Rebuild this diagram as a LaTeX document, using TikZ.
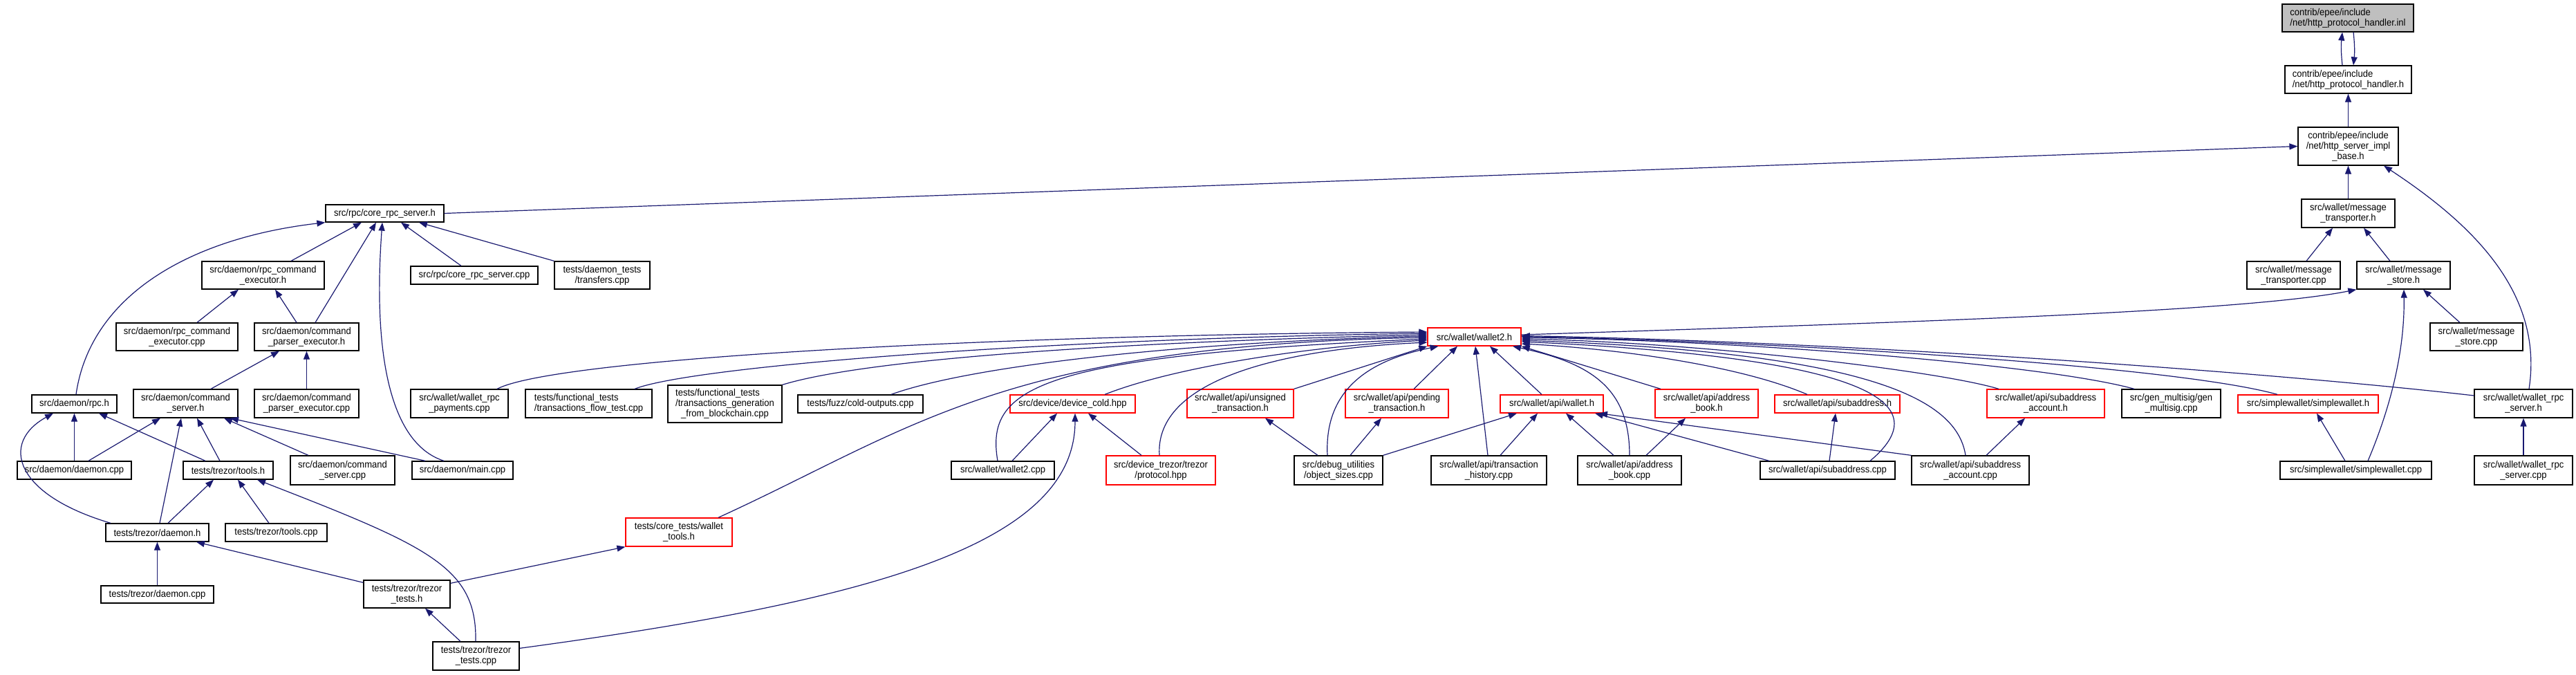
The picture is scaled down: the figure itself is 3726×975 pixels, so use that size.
\documentclass[tikz,border=0pt]{standalone}
\usepackage{fontspec}
\setmainfont{Liberation Sans}[FakeStretch=0.93]
\usetikzlibrary{arrows.meta}
\definecolor{edgeblue}{RGB}{25,25,112}
\definecolor{nodegray}{RGB}{191,191,191}
\tikzset{
  fbox/.style={draw=black, line width=1.3pt, fill=white, inner sep=0pt, align=center,
    font=\fontsize{14}{15}\selectfont, text=black},
  redbox/.style={fbox, draw=red},
  graybox/.style={fbox, fill=nodegray},
  edge/.style={draw=edgeblue, line width=1.2pt, -{Triangle[length=12pt,width=9pt]}},
}
\begin{document}
\begin{tikzpicture}[x=1pt,y=-1pt]
\useasboundingbox (0,0) rectangle (3726,975);
\fill[white] (0,0) rectangle (3726,975);

% ---------------- nodes ----------------
\node[graybox, align=left, minimum width=190pt, minimum height=40pt] (inl) at (3396,26) {contrib/epee/include\\/net/http\_protocol\_handler.inl};
\node[fbox, align=left, minimum width=183pt, minimum height=40pt] (hh) at (3396.5,115) {contrib/epee/include\\/net/http\_protocol\_handler.h};
\node[fbox, minimum width=145pt, minimum height=55pt] (impl) at (3396.5,211.5) {contrib/epee/include\\/net/http\_server\_impl\\\_base.h};
\node[fbox, minimum width=171pt, minimum height=25pt] (crsh) at (556.5,308.5) {src/rpc/core\_rpc\_server.h};
\node[fbox, minimum width=135pt, minimum height=41pt] (mth) at (3396.5,308.5) {src/wallet/message\\\_transporter.h};
\node[fbox, minimum width=177pt, minimum height=40pt] (rceh) at (380.5,398) {src/daemon/rpc\_command\\\_executor.h};
\node[fbox, minimum width=184pt, minimum height=26pt] (crscpp) at (686,398) {src/rpc/core\_rpc\_server.cpp};
\node[fbox, minimum width=138pt, minimum height=40pt] (dtt) at (871,398) {tests/daemon\_tests\\/transfers.cpp};
\node[fbox, minimum width=135pt, minimum height=40pt] (mtcpp) at (3317.5,398) {src/wallet/message\\\_transporter.cpp};
\node[fbox, minimum width=135pt, minimum height=40pt] (msh) at (3476.5,398) {src/wallet/message\\\_store.h};
\node[fbox, minimum width=176pt, minimum height=40pt] (rcecpp) at (256,487) {src/daemon/rpc\_command\\\_executor.cpp};
\node[fbox, minimum width=151pt, minimum height=40pt] (peh) at (443.5,487) {src/daemon/command\\\_parser\_executor.h};
\node[redbox, minimum width=135pt, minimum height=26pt] (w2h) at (2132.5,487) {src/wallet/wallet2.h};
\node[fbox, minimum width=134pt, minimum height=40pt] (mscpp) at (3582,487) {src/wallet/message\\\_store.cpp};
\node[fbox, minimum width=123pt, minimum height=26pt] (rpch) at (107.5,584) {src/daemon/rpc.h};
\node[fbox, minimum width=151pt, minimum height=41pt] (csh) at (268.5,583.5) {src/daemon/command\\\_server.h};
\node[fbox, minimum width=151pt, minimum height=41pt] (pecpp) at (443.5,583.5) {src/daemon/command\\\_parser\_executor.cpp};
\node[fbox, minimum width=141pt, minimum height=41pt] (wrpay) at (664.5,583.5) {src/wallet/wallet\_rpc\\\_payments.cpp};
\node[fbox, align=left, minimum width=183pt, minimum height=41pt] (tft) at (851.5,583.5) {tests/functional\_tests\\/transactions\_flow\_test.cpp};
\node[fbox, align=left, minimum width=165pt, minimum height=54pt] (tgen) at (1048.5,584) {tests/functional\_tests\\/transactions\_generation\\\hspace*{8pt}\_from\_blockchain.cpp};
\node[fbox, minimum width=181pt, minimum height=26pt] (cold) at (1244.5,584) {tests/fuzz/cold-outputs.cpp};
\node[redbox, minimum width=181pt, minimum height=26pt] (dcold) at (1551.5,584) {src/device/device\_cold.hpp};
\node[redbox, minimum width=154pt, minimum height=41pt] (unsig) at (1794,583.5) {src/wallet/api/unsigned\\\_transaction.h};
\node[redbox, minimum width=149pt, minimum height=41pt] (pend) at (2020.5,583.5) {src/wallet/api/pending\\\_transaction.h};
\node[redbox, minimum width=149pt, minimum height=26pt] (apiw) at (2244.5,584) {src/wallet/api/wallet.h};
\node[redbox, minimum width=149pt, minimum height=41pt] (abh) at (2468.5,583.5) {src/wallet/api/address\\\_book.h};
\node[redbox, minimum width=181pt, minimum height=26pt] (sah) at (2657.5,584) {src/wallet/api/subaddress.h};
\node[redbox, minimum width=170pt, minimum height=41pt] (saah) at (2959,583.5) {src/wallet/api/subaddress\\\_account.h};
\node[fbox, minimum width=143pt, minimum height=41pt] (gms) at (3140.5,583.5) {src/gen\_multisig/gen\\\_multisig.cpp};
\node[redbox, minimum width=203pt, minimum height=26pt] (swh) at (3338.5,584) {src/simplewallet/simplewallet.h};
\node[fbox, minimum width=142pt, minimum height=41pt] (wrsh) at (3650,583.5) {src/wallet/wallet\_rpc\\\_server.h};
\node[fbox, minimum width=165pt, minimum height=26pt] (dcpp) at (107.5,680) {src/daemon/daemon.cpp};
\node[fbox, minimum width=130pt, minimum height=26pt] (tth) at (330,680) {tests/trezor/tools.h};
\node[fbox, minimum width=151pt, minimum height=42pt] (cscpp) at (495.5,680) {src/daemon/command\\\_server.cpp};
\node[fbox, minimum width=146pt, minimum height=26pt] (maincpp) at (669,680) {src/daemon/main.cpp};
\node[fbox, minimum width=149pt, minimum height=26pt] (w2cpp) at (1450.5,680) {src/wallet/wallet2.cpp};
\node[redbox, minimum width=158pt, minimum height=42pt] (proto) at (1679,680) {src/device\_trezor/trezor\\/protocol.hpp};
\node[fbox, minimum width=128pt, minimum height=42pt] (objs) at (1936,680) {src/debug\_utilities\\/object\_sizes.cpp};
\node[fbox, minimum width=167pt, minimum height=42pt] (thist) at (2153.5,680) {src/wallet/api/transaction\\\_history.cpp};
\node[fbox, minimum width=150pt, minimum height=42pt] (abcpp) at (2357,680) {src/wallet/api/address\\\_book.cpp};
\node[fbox, minimum width=195pt, minimum height=26pt] (sacpp) at (2643.5,680) {src/wallet/api/subaddress.cpp};
\node[fbox, minimum width=170pt, minimum height=42pt] (saacpp) at (2850,680) {src/wallet/api/subaddress\\\_account.cpp};
\node[fbox, minimum width=219pt, minimum height=26pt] (swcpp) at (3407.5,680) {src/simplewallet/simplewallet.cpp};
\node[fbox, minimum width=142pt, minimum height=42pt] (wrscpp) at (3650,680) {src/wallet/wallet\_rpc\\\_server.cpp};
\node[fbox, minimum width=149pt, minimum height=26pt] (tdh) at (227.5,770) {tests/trezor/daemon.h};
\node[fbox, minimum width=147pt, minimum height=26pt] (ttcpp) at (399.5,770) {tests/trezor/tools.cpp};
\node[redbox, minimum width=154pt, minimum height=41pt] (wtools) at (982,769.5) {tests/core\_tests/wallet\\\_tools.h};
\node[fbox, minimum width=163pt, minimum height=25pt] (tdcpp) at (227.5,859.5) {tests/trezor/daemon.cpp};
\node[fbox, minimum width=125pt, minimum height=40pt] (tth2) at (588.5,859) {tests/trezor/trezor\\\_tests.h};
\node[fbox, minimum width=125pt, minimum height=41pt] (ttcpp2) at (688.5,948.5) {tests/trezor/trezor\\\_tests.cpp};

% ---------------- edges ----------------
% top chain
\draw[edge] ([xshift=-8.5pt]hh.north) to[bend left=6] ([xshift=-8pt]inl.south);
\draw[edge] ([xshift=8pt]inl.south) to[bend left=6] ([xshift=7.5pt]hh.north);
\draw[edge] (impl.north) -- (hh.south);
\draw[edge] (crsh.east) -- (impl.west);
\draw[edge] (mth.north) -- (impl.south);
\draw[edge] ([xshift=8pt]wrsh.north) .. controls (3680,420) and (3570,320) .. ([xshift=51.5pt]impl.south);

% core_rpc_server.h
\draw[edge] ([xshift=2.5pt]rpch.north) .. controls (130,430) and (270,345) .. (crsh.south west);
\draw[edge] ([xshift=40.5pt]rceh.north) -- ([xshift=-33.5pt]crsh.south);
\draw[edge] ([xshift=12.5pt]peh.north) -- ([xshift=-12.5pt]crsh.south);
\draw[edge] ([xshift=-27pt]maincpp.north) .. controls (560,640) and (540,500) .. ([xshift=-3.5pt]crsh.south);
\draw[edge] ([xshift=-19pt]crscpp.north) -- ([xshift=23.5pt]crsh.south);
\draw[edge] (dtt.north west) -- ([xshift=49.5pt]crsh.south);

% message_transporter.h
\draw[edge] ([xshift=18.5pt]mtcpp.north) -- ([xshift=-22.5pt]mth.south);
\draw[edge] ([xshift=-19.5pt]msh.north) -- ([xshift=22.5pt]mth.south);

% rpc_command_executor.h / command_parser_executor.h
\draw[edge] ([xshift=29pt]rcecpp.north) -- ([xshift=-35.5pt]rceh.south);
\draw[edge] ([xshift=-14.5pt]peh.north) -- ([xshift=17.5pt]rceh.south);
\draw[edge] ([xshift=36.5pt]csh.north) -- ([xshift=-39.5pt]peh.south);
\draw[edge] (pecpp.north) -- (peh.south);

% message_store.h
\draw[edge] ([yshift=3pt]w2h.east) .. controls (2800,465) and (3250,450) .. (msh.south west);
\draw[edge] ([xshift=-24pt]mscpp.north) -- ([xshift=28.5pt]msh.south);
\draw[edge] ([xshift=17.5pt]swcpp.north) .. controls (3470,560) and (3478,480) .. ([xshift=0.5pt]msh.south);

% rpc.h
\draw[edge] (dcpp.north) -- (rpch.south);
\draw[edge] ([xshift=-67.5pt]tdh.north) .. controls (20,715) and (0,640) .. ([xshift=-30.5pt]rpch.south);
\draw[edge] ([xshift=-33pt]tth.north) -- ([xshift=35.5pt]rpch.south);

% command_server.h
\draw[edge] ([xshift=20.5pt]dcpp.north) -- ([xshift=-36.5pt]csh.south);
\draw[edge] ([xshift=3.5pt]tdh.north) -- ([xshift=-6.5pt]csh.south);
\draw[edge] ([xshift=-12pt]tth.north) -- ([xshift=16.5pt]csh.south);
\draw[edge] ([xshift=-49.5pt]cscpp.north) -- ([xshift=55.5pt]csh.south);
\draw[edge] ([xshift=-54pt]maincpp.north) -- ([xshift=64.5pt]csh.south);

% trezor tools.h
\draw[edge] ([xshift=15.5pt]tdh.north) -- ([xshift=-21pt]tth.south);
\draw[edge] ([xshift=-10.5pt]ttcpp.north) -- ([xshift=14pt]tth.south);
\draw[edge] ([xshift=-0.5pt]ttcpp2.north) .. controls (690,820) and (620,790) .. ([xshift=42pt]tth.south);

% trezor daemon.h, trezor_tests.h
\draw[edge] (tdcpp.north) -- (tdh.south);
\draw[edge] ([yshift=-4pt]tth2.north west) -- ([xshift=56.5pt]tdh.south);
\draw[edge] ([yshift=-5pt]tth2.north east) -- (wtools.south west);
\draw[edge] ([xshift=-22.5pt]ttcpp2.north) -- ([xshift=26.5pt]tth2.south);

% device_cold.hpp
\draw[edge] ([yshift=-10pt]ttcpp2.north east) .. controls (1250,870) and (1555,790) .. ([xshift=3.5pt]dcold.south);
\draw[edge] ([xshift=13.5pt]w2cpp.north) -- ([xshift=-22.5pt]dcold.south);
\draw[edge] ([xshift=-28pt]proto.north) -- ([xshift=22.5pt]dcold.south);

% api headers
\draw[edge] ([xshift=-30pt]objs.north) -- ([xshift=36pt]unsig.south);
\draw[edge] ([xshift=17pt]objs.north) -- ([xshift=-22.5pt]pend.south);
\draw[edge] (objs.north east) -- ([xshift=-50.5pt]apiw.south);
\draw[edge] ([xshift=16.5pt]thist.north) -- ([xshift=-20.5pt]apiw.south);
\draw[edge] ([xshift=-23pt]abcpp.north) -- ([xshift=20.5pt]apiw.south);
\draw[edge] ([xshift=-84.5pt]sacpp.north) -- ([xshift=62.5pt]apiw.south);
\draw[edge] (saacpp.north west) -- ([xshift=68.5pt]apiw.south);
\draw[edge] ([xshift=24pt]abcpp.north) -- ([xshift=-30.5pt]abh.south);
\draw[edge] ([xshift=2.5pt]sacpp.north) -- ([xshift=-2.5pt]sah.south);
\draw[edge] ([xshift=23pt]saacpp.north) -- ([xshift=-30pt]saah.south);
\draw[edge] ([xshift=-15.5pt]swcpp.north) -- ([xshift=12.5pt]swh.south);
\draw[edge] (wrscpp.north) -- (wrsh.south);

% wallet2.h hub
\draw[edge] ([xshift=54.5pt]wrpay.north) .. controls (800,520) and (1400,485) .. ([yshift=7pt]w2h.west);
\draw[edge] ([xshift=66.5pt]tft.north) .. controls (1000,530) and (1500,490) .. ([yshift=5pt]w2h.west);
\draw[edge] (tgen.north east) .. controls (1250,520) and (1600,495) .. ([yshift=3pt]w2h.west);
\draw[edge] ([xshift=44.5pt]cold.north) .. controls (1400,530) and (1700,495) .. ([yshift=1pt]w2h.west);
\draw[edge] ([xshift=57pt]wtools.north) .. controls (1320,620) and (1450,500) .. ([yshift=-1pt]w2h.west);
\draw[edge] ([xshift=-7.5pt]w2cpp.north) .. controls (1425,560) and (1500,515) .. ([yshift=-3pt]w2h.west);
\draw[edge] ([xshift=46.5pt]dcold.north) .. controls (1700,530) and (1900,500) .. ([yshift=-5pt]w2h.west);
\draw[edge] ([xshift=-2pt]proto.north) .. controls (1670,550) and (1850,505) .. ([yshift=-8pt]w2h.west);
\draw[edge] (unsig.north east) -- (w2h.south west);
\draw[edge] ([xshift=-16pt]objs.north) .. controls (1915,560) and (1985,520) .. ([xshift=-52pt]w2h.south);
\draw[edge] ([xshift=24.5pt]pend.north) -- ([xshift=-24.5pt]w2h.south);
\draw[edge] ([xshift=-1.5pt]thist.north) -- ([xshift=1.5pt]w2h.south);
\draw[edge] ([xshift=-14.5pt]apiw.north) -- ([xshift=22.5pt]w2h.south);
\draw[edge] (abcpp.north) .. controls (2357,560) and (2300,525) .. ([xshift=55.5pt]w2h.south);
\draw[edge] ([xshift=-66.5pt]abh.north) -- (w2h.south east);
\draw[edge] ([xshift=-43.5pt]sah.north) .. controls (2520,530) and (2350,505) .. ([yshift=-10pt]w2h.east);
\draw[edge] ([xshift=61.5pt]sacpp.north) .. controls (2820,570) and (2650,515) .. ([yshift=-7pt]w2h.east);
\draw[edge] ([xshift=-7pt]saacpp.north) .. controls (2830,575) and (2700,510) .. ([yshift=-5pt]w2h.east);
\draw[edge] ([xshift=-68pt]saah.north) .. controls (2800,535) and (2450,495) .. ([yshift=-3pt]w2h.east);
\draw[edge] ([xshift=-53.5pt]gms.north) .. controls (2950,525) and (2500,492) .. ([yshift=-1pt]w2h.east);
\draw[edge] ([xshift=-44.5pt]swh.north) .. controls (3150,530) and (2600,495) .. ([yshift=0.5pt]w2h.east);
\draw[edge] ([yshift=11.5pt]wrsh.west) .. controls (3300,540) and (2700,495) .. ([yshift=1.5pt]w2h.east);
\end{tikzpicture}
\end{document}
